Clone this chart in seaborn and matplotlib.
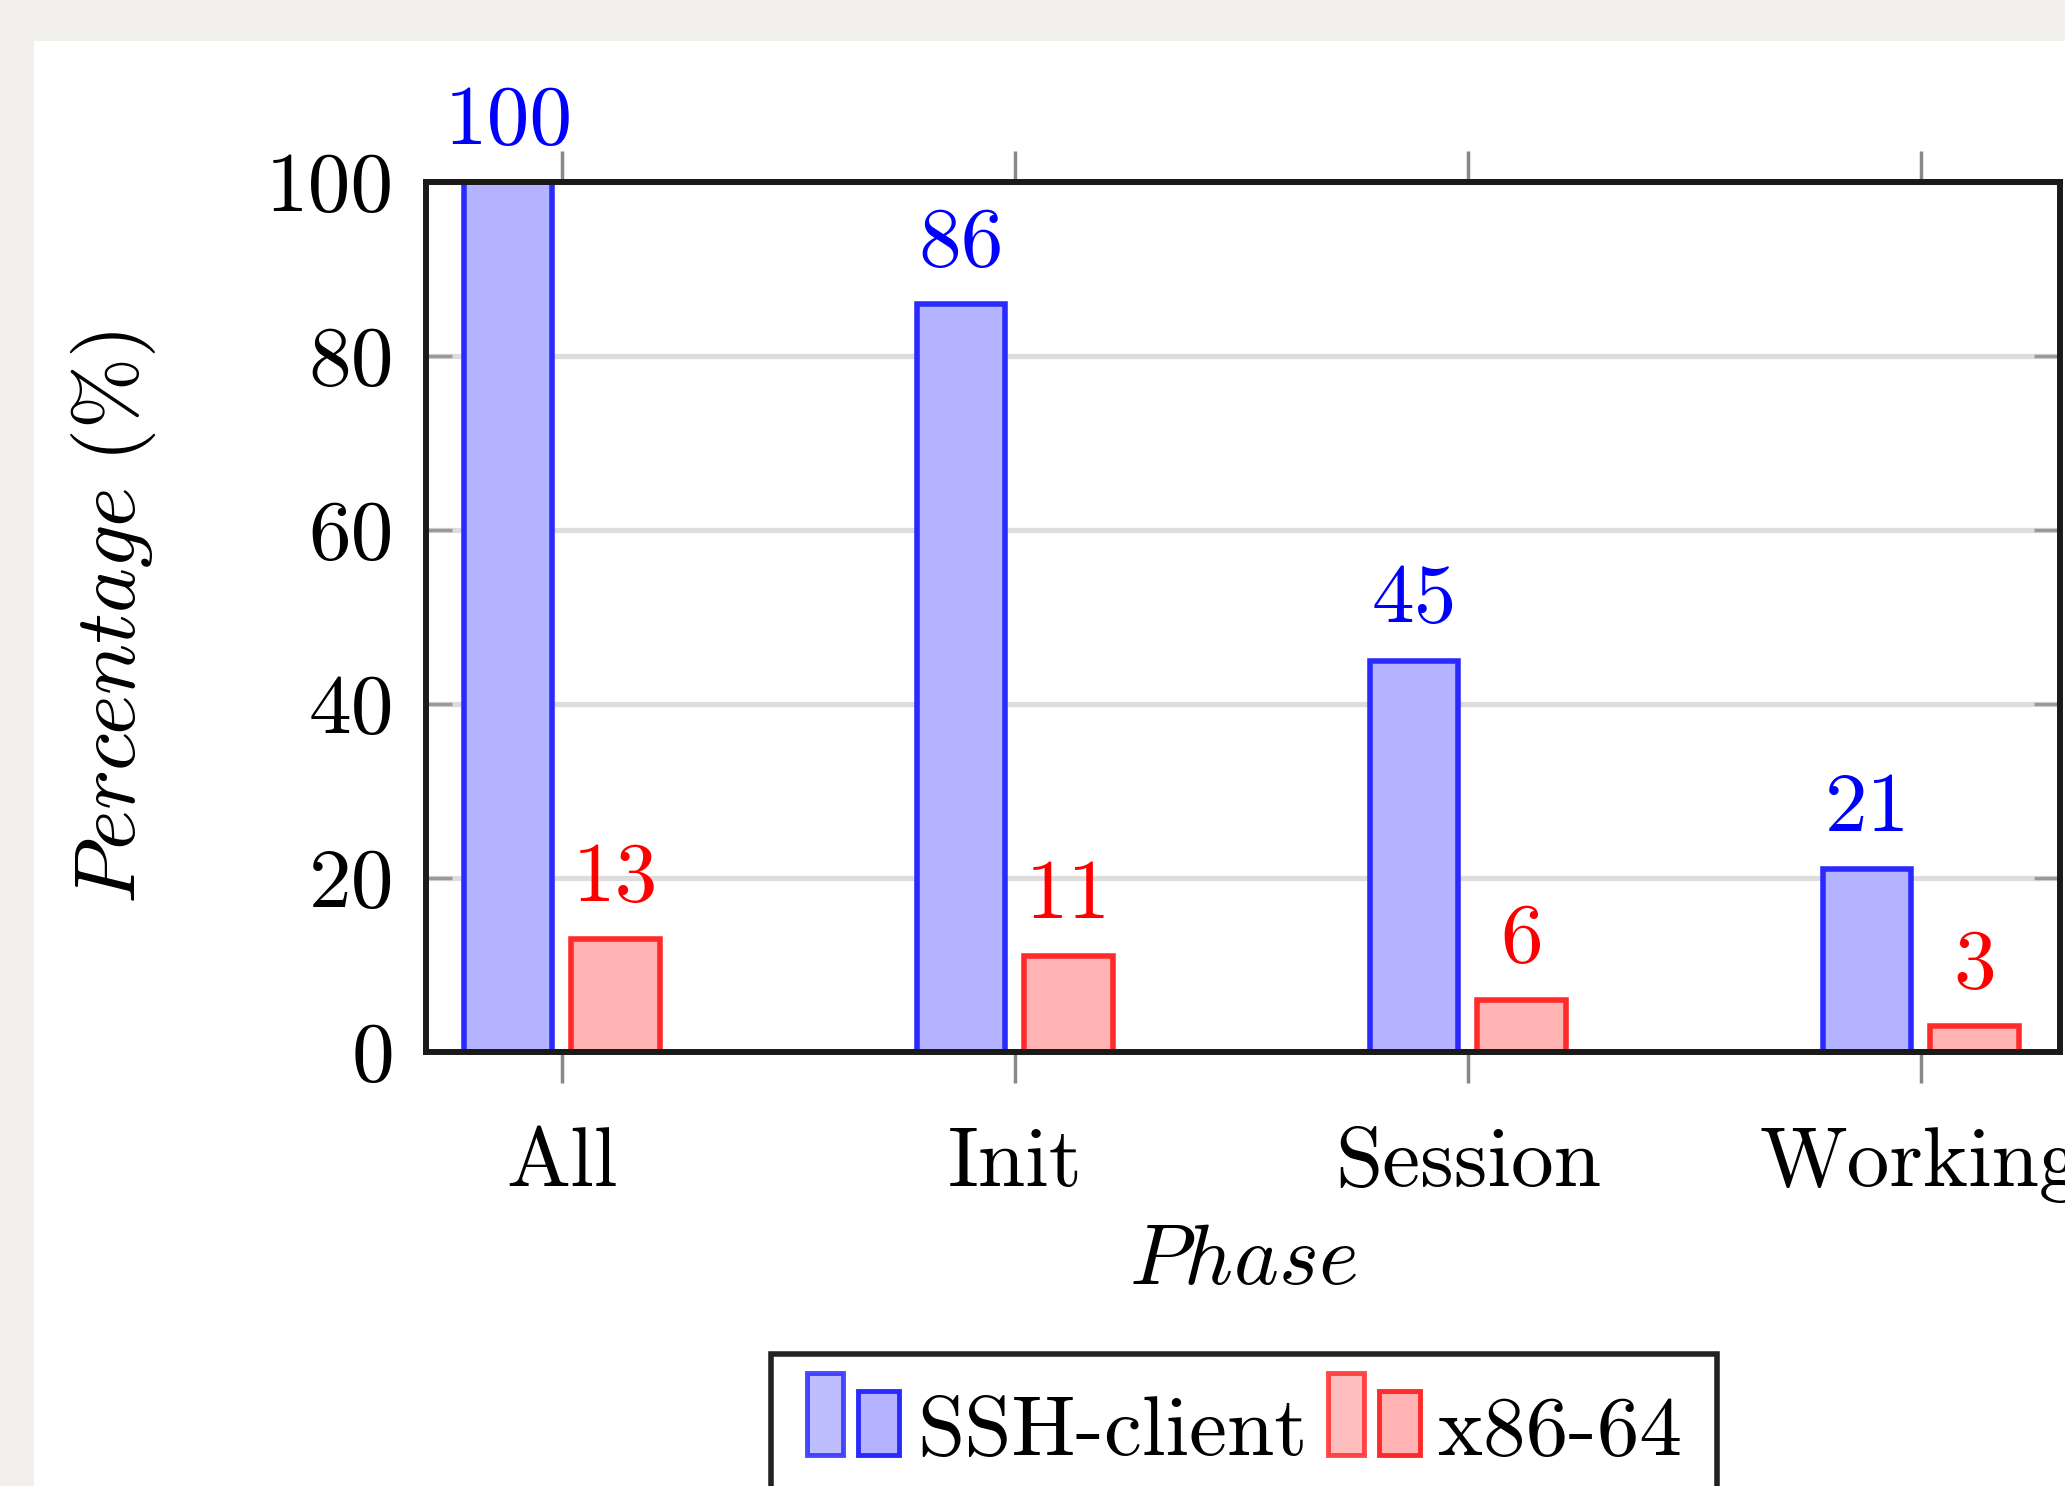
import matplotlib
matplotlib.use("Agg")
import matplotlib.pyplot as plt
from matplotlib.patches import Rectangle, Patch
from matplotlib.legend_handler import HandlerBase
import pandas as pd
import seaborn as sns

# data
phases = ["All", "Init", "Session", "Working"]
series = ["SSH-client", "x86-64"]
ssh_client = [100, 86, 45, 21]
x86_64 = [13, 11, 6, 3]
y_ticks = [0, 20, 40, 60, 80, 100]

fill_colors = ["#b3b3ff", "#ffb3b3"]
edge_colors = ["#2a2aff", "#ff2a2a"]
label_colors = ["#0000ff", "#ff0000"]

W, H, DPI = 2065, 1486, 100
FS = 61.5

plt.rcParams["font.family"] = ["cmr10", "DejaVu Serif"]
plt.rcParams["mathtext.fontset"] = "cm"
plt.rcParams["axes.formatter.use_mathtext"] = True


class TwoBarHandler(HandlerBase):
    """pgfplots-like ybar legend image: two small bars"""
    def __init__(self, fill, edge):
        super().__init__()
        self.fill = fill
        self.edge = edge

    def create_artists(self, legend, orig_handle, xdescent, ydescent,
                       width, height, fontsize, trans):
        x0 = -xdescent
        b1 = Rectangle((x0 + 0.02 * fontsize, 0), 0.42 * fontsize, 0.96 * fontsize,
                       facecolor=self.fill, edgecolor=self.edge, alpha=0.85,
                       linewidth=3.5, transform=trans)
        b2 = Rectangle((x0 + 0.62 * fontsize, 0), 0.48 * fontsize, 0.74 * fontsize,
                       facecolor=self.fill, edgecolor=self.edge,
                       linewidth=3.5, transform=trans)
        return [b1, b2]


df = pd.DataFrame({
    "Phase": phases * 2,
    "Series": [series[0]] * len(phases) + [series[1]] * len(phases),
    "Value": ssh_client + x86_64,
})

fig = plt.figure(figsize=(W / DPI, H / DPI), dpi=DPI, facecolor="#f1f0ec")
fig.add_artist(Rectangle((34 / W, 0), 1, 1 - 41 / H, transform=fig.transFigure,
                         facecolor="white", edgecolor="none", zorder=-10))
ax = fig.add_axes([426 / W, 1 - 1052 / H, (2060 - 426) / W, (1052 - 182) / H])

sns.barplot(data=df, x="Phase", y="Value", hue="Series", order=phases,
            hue_order=series, palette=fill_colors, saturation=1,
            width=0.474, gap=0.177, errorbar=None, legend=False, ax=ax)

values = [ssh_client, x86_64]
for i, cont in enumerate(ax.containers):
    for bar in cont:
        bar.set_edgecolor(edge_colors[i])
        bar.set_linewidth(4)
    ax.bar_label(cont, labels=[str(v) for v in values[i]], padding=16,
                 color=label_colors[i], fontsize=FS, annotation_clip=False)

ax.set_xlim(-0.300, 3.307)
ax.set_ylim(0, 100)
ax.set_yticks(y_ticks)
ax.set_yticklabels([str(t) for t in y_ticks])

ax.tick_params(axis="y", direction="in", length=19, width=2.5, color="#999999",
               left=True, right=True, pad=23, labelsize=FS)
ax.tick_params(axis="x", direction="out", length=22, width=2.5, color="#888888",
               top=True, bottom=True, pad=32, labelsize=FS)
ax.grid(axis="y", color="#dddddd", linewidth=3.8)
ax.set_axisbelow(True)
for s in ax.spines.values():
    s.set_color("#1a1a1a")
    s.set_linewidth(4.3)

ax.set_xlabel(r"$\mathit{Phase}$", fontsize=FS, labelpad=16)
ax.set_ylabel(r"$\mathit{Percentage\ (\%)}$", fontsize=FS, labelpad=78)

h1, h2 = Patch(), Patch()
leg = fig.legend(handles=[h1, h2], labels=series, loc="upper center",
                 bbox_to_anchor=(1244 / W, 1 - 1354 / H), ncols=2,
                 handler_map={h1: TwoBarHandler(fill_colors[0], edge_colors[0]),
                              h2: TwoBarHandler(fill_colors[1], edge_colors[1])},
                 frameon=True, fancybox=False, framealpha=1, edgecolor="#222222",
                 fontsize=FS, handlelength=1.13, handleheight=0.96,
                 handletextpad=0.18, columnspacing=0.22, borderpad=0.4,
                 borderaxespad=0)
leg.get_frame().set_linewidth(4)

fig.savefig("out.png", dpi=DPI, facecolor=fig.get_facecolor())
